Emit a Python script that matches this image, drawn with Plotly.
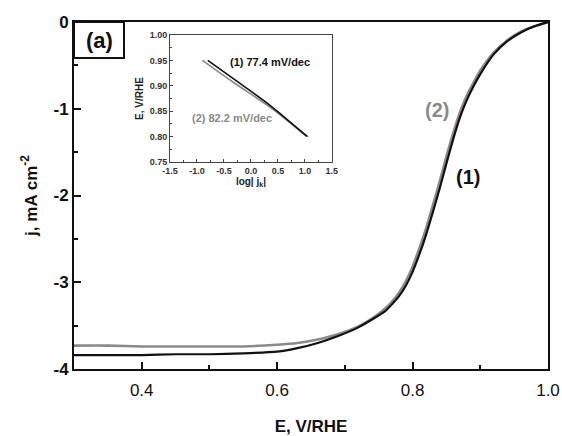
import plotly.graph_objects as go

# Main curves: E (V/RHE), j (mA cm^-2)
E1 = [0.30, 0.35, 0.40, 0.45, 0.50, 0.55, 0.60, 0.63, 0.66, 0.69, 0.72, 0.74, 0.76, 0.77, 0.78,
      0.79, 0.80, 0.81, 0.82, 0.83, 0.84, 0.85, 0.86, 0.87, 0.88, 0.89, 0.90, 0.92, 0.94, 0.96, 0.98, 1.00]
j1 = [-3.84, -3.84, -3.84, -3.83, -3.83, -3.82, -3.80, -3.76, -3.70, -3.62, -3.52, -3.43, -3.33, -3.25, -3.16,
      -3.04, -2.88, -2.68, -2.45, -2.19, -1.92, -1.63, -1.35, -1.10, -0.90, -0.74, -0.60, -0.37, -0.22, -0.12,
      -0.05, 0.0]
E2 = E1
j2 = [-3.73, -3.73, -3.74, -3.74, -3.74, -3.74, -3.72, -3.70, -3.66, -3.60, -3.51, -3.42, -3.30, -3.22, -3.12,
      -2.99, -2.82, -2.61, -2.38, -2.11, -1.84, -1.55, -1.28, -1.04, -0.85, -0.70, -0.56, -0.35, -0.21, -0.11,
      -0.05, 0.0]

# Tafel inset
logjk1 = [-0.80, -0.30, 0.30, 0.60, 1.05]
Etaf1 = [0.950, 0.912, 0.866, 0.840, 0.800]
logjk2 = [-0.90, -0.30, 0.30, 0.60, 1.02]
Etaf2 = [0.950, 0.905, 0.862, 0.838, 0.801]

x_ticks = [0.4, 0.6, 0.8, 1.0]
x_ticktext = ["0.4", "0.6", "0.8", "1.0"]
y_ticks = [0, -1, -2, -3, -4]
y_ticktext = ["<b>0</b>", "<b>-1</b>", "<b>-2</b>", "<b>-3</b>", "<b>-4</b>"]
ix_ticks = [-1.5, -1.0, -0.5, 0.0, 0.5, 1.0, 1.5]
iy_ticks = [0.75, 0.80, 0.85, 0.90, 0.95, 1.00]

BLACK = "#111111"
GRAY = "#8a8a8a"
FONT = "Arial, Liberation Sans, sans-serif"

fig = go.Figure()
fig.add_trace(go.Scatter(x=E2, y=j2, mode="lines",
                         line=dict(color=GRAY, width=2.6, shape="spline", smoothing=0.6),
                         showlegend=False))
fig.add_trace(go.Scatter(x=E1, y=j1, mode="lines",
                         line=dict(color=BLACK, width=2.2, shape="spline", smoothing=0.6),
                         showlegend=False))
fig.add_trace(go.Scatter(x=logjk2, y=Etaf2, mode="lines", line=dict(color=GRAY, width=1.6, shape="spline"),
                         xaxis="x2", yaxis="y2", showlegend=False))
fig.add_trace(go.Scatter(x=logjk1, y=Etaf1, mode="lines", line=dict(color=BLACK, width=1.6, shape="spline"),
                         xaxis="x2", yaxis="y2", showlegend=False))

fig.update_layout(
    width=562, height=436,
    margin=dict(l=74, r=14, t=22, b=67),
    paper_bgcolor="white", plot_bgcolor="white",
    font=dict(family=FONT, color=BLACK),
    xaxis=dict(range=[0.3, 1.0], tickvals=x_ticks, ticktext=x_ticktext, automargin=False,
               ticks="inside", ticklen=7, tickwidth=2, tickcolor=BLACK, ticklabelstandoff=5,
               minor=dict(dtick=0.1, ticks="inside", ticklen=4, tickwidth=2, tickcolor=BLACK),
               showline=True, linecolor=BLACK, linewidth=2, mirror=True, showgrid=False, zeroline=False,
               tickfont=dict(size=17, color=BLACK),
               title=dict(text="<b>E, V/RHE</b>", font=dict(size=17, color=BLACK), standoff=28)),
    yaxis=dict(range=[-4, 0], tickvals=y_ticks, ticktext=y_ticktext, automargin=False,
               ticks="inside", ticklen=7, tickwidth=2, tickcolor=BLACK,
               minor=dict(dtick=0.5, ticks="inside", ticklen=4, tickwidth=2, tickcolor=BLACK),
               showline=True, linecolor=BLACK, linewidth=2, mirror=True, showgrid=False, zeroline=False,
               tickfont=dict(size=17, color=BLACK),
               title=dict(text="<b>j, mA cm<sup>-2</sup></b>", font=dict(size=17, color=BLACK), standoff=12)),
    xaxis2=dict(domain=[0.2025, 0.544], anchor="y2", range=[-1.5, 1.5], tickvals=ix_ticks,
                ticktext=[f"<b>{v:.1f}</b>" for v in ix_ticks], automargin=False,
                ticks="inside", ticklen=3, tickwidth=1, tickcolor="#444",
                minor=dict(dtick=0.25, ticks="inside", ticklen=2, tickcolor="#444"),
                showline=True, linecolor="#444", linewidth=1, mirror=True, showgrid=False, zeroline=False,
                tickfont=dict(size=9, color="#333"),
                title=dict(text="<b>log| j<sub>k</sub>|</b>", font=dict(size=10, color="#222"), standoff=3)),
    yaxis2=dict(domain=[0.5965, 0.9625], anchor="x2", range=[0.75, 1.0], tickvals=iy_ticks,
                ticktext=[f"<b>{v:.2f}</b>" for v in iy_ticks], automargin=False,
                ticks="inside", ticklen=3, tickwidth=1, tickcolor="#444",
                minor=dict(dtick=0.025, ticks="inside", ticklen=2, tickcolor="#444"),
                showline=True, linecolor="#444", linewidth=1, mirror=True, showgrid=False, zeroline=False,
                tickfont=dict(size=9, color="#333"),
                title=dict(text="<b>E, V/RHE</b>", font=dict(size=10, color="#222"), standoff=4)),
    shapes=[dict(type="rect", xref="paper", yref="paper", x0=0, x1=(124 - 74) / 474,
                 y0=1 - (58 - 22) / 347, y1=1, line=dict(color=BLACK, width=2), fillcolor="white",
                 layer="below")],
    annotations=[
        dict(text="<b>(a)</b>", xref="paper", yref="paper", x=(99 - 74) / 474, y=1 - (40 - 22) / 347,
             xanchor="center", yanchor="middle", showarrow=False, font=dict(size=22, color=BLACK)),
        dict(text="<b>(2)</b>", x=0.836, y=-1.01, xanchor="center", yanchor="middle",
             showarrow=False, font=dict(size=20, color=GRAY)),
        dict(text="<b>(1)</b>", x=0.882, y=-1.79, xanchor="center", yanchor="middle",
             showarrow=False, font=dict(size=20, color=BLACK)),
        dict(text="<b>(1) 77.4 mV/dec</b>", xref="x2", yref="y2", x=0.35, y=0.947, xanchor="center",
             showarrow=False, font=dict(size=11, color=BLACK)),
        dict(text="<b>(2) 82.2 mV/dec</b>", xref="x2", yref="y2", x=-0.35, y=0.837, xanchor="center",
             showarrow=False, font=dict(size=11, color=GRAY)),
    ],
)

fig.write_html("out.html")
